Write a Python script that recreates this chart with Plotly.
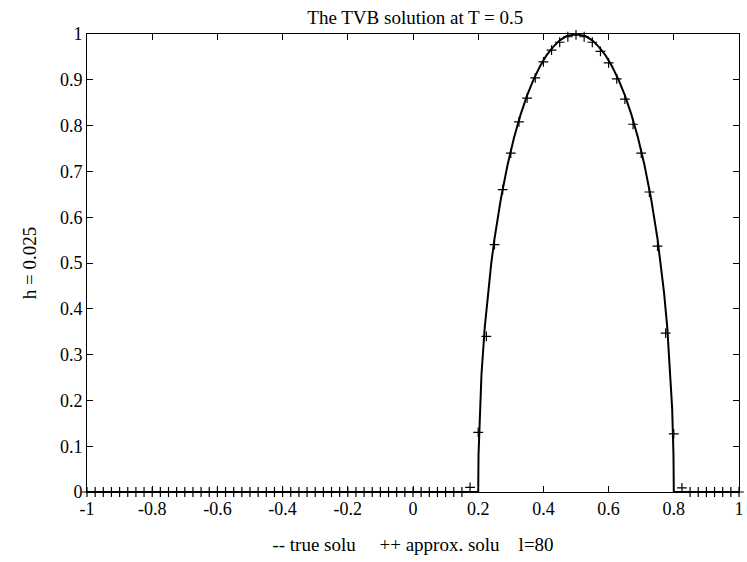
import plotly.graph_objects as go

# approximate solution at grid points x = -1 .. 1 (step 0.025)
x_approx = [round(-1 + 0.025 * k, 4) for k in range(81)]
approx_nonzero = {
    0.175: 0.01, 0.2: 0.13, 0.225: 0.34, 0.25: 0.54, 0.275: 0.66, 0.3: 0.74,
    0.325: 0.808, 0.35: 0.86, 0.375: 0.904, 0.4: 0.939, 0.425: 0.965,
    0.45: 0.982, 0.475: 0.994, 0.5: 0.998, 0.525: 0.994, 0.55: 0.982,
    0.575: 0.962, 0.6: 0.937, 0.625: 0.902, 0.65: 0.858, 0.675: 0.803,
    0.7: 0.74, 0.725: 0.655, 0.75: 0.537, 0.775: 0.347, 0.8: 0.127, 0.825: 0.009,
}
y_approx = [approx_nonzero.get(x, 0.0) for x in x_approx]

# true solution
x_true = [-1, 0.2, 0.201, 0.205, 0.21, 0.22, 0.23, 0.24, 0.25, 0.27, 0.29, 0.31,
          0.33, 0.35, 0.37, 0.39, 0.41, 0.43, 0.45, 0.47, 0.5, 0.53, 0.55, 0.57,
          0.59, 0.61, 0.63, 0.65, 0.67, 0.69, 0.71, 0.73, 0.75, 0.76, 0.77, 0.78,
          0.79, 0.795, 0.799, 0.8, 1]
y_true = [0, 0, 0.082, 0.182, 0.256, 0.359, 0.436, 0.499, 0.553, 0.642, 0.714,
          0.774, 0.824, 0.866, 0.901, 0.930, 0.954, 0.972, 0.986, 0.995, 1.0,
          0.995, 0.986, 0.972, 0.954, 0.930, 0.901, 0.866, 0.824, 0.774, 0.714,
          0.642, 0.553, 0.499, 0.436, 0.359, 0.256, 0.182, 0.082, 0, 0]

x_ticks = [-1, -0.8, -0.6, -0.4, -0.2, 0, 0.2, 0.4, 0.6, 0.8, 1]
x_tick_labels = ["-1", "-0.8", "-0.6", "-0.4", "-0.2", "0", "0.2", "0.4", "0.6", "0.8", "1"]
y_ticks = [0, 0.1, 0.2, 0.3, 0.4, 0.5, 0.6, 0.7, 0.8, 0.9, 1]
y_tick_labels = ["0", "0.1", "0.2", "0.3", "0.4", "0.5", "0.6", "0.7", "0.8", "0.9", "1"]

serif = "Liberation Serif"

fig = go.Figure()
fig.add_trace(go.Scatter(x=x_true, y=y_true, mode="lines",
                         line=dict(color="black", width=2), showlegend=False))
fig.add_trace(go.Scatter(x=x_approx, y=y_approx, mode="markers",
                         marker=dict(symbol="cross-thin", size=7,
                                     line=dict(color="black", width=1.2)),
                         showlegend=False, cliponaxis=False))

fig.update_layout(
    width=747, height=562,
    margin=dict(l=87, r=3, t=34, b=70),
    plot_bgcolor="white", paper_bgcolor="white",
    font=dict(family=serif, size=18, color="black"),
    title=dict(text="The TVB solution at T = 0.5", x=0.556, xanchor="center",
               y=0.969, yanchor="middle", font=dict(family=serif, size=19, color="black")),
    xaxis=dict(range=[-1, 1], tickvals=x_ticks, ticktext=x_tick_labels,
               ticks="inside", ticklen=6, tickcolor="black", mirror="allticks",
               showline=True, linecolor="black", linewidth=1, showgrid=False,
               zeroline=False, ticklabeloverflow="allow",
               tickfont=dict(family=serif, size=18),
               title=dict(text="-- true solu     ++ approx. solu    l=80",
                          font=dict(family=serif, size=19), standoff=20)),
    yaxis=dict(range=[0, 1], tickvals=y_ticks, ticktext=y_tick_labels,
               ticks="inside", ticklen=6, tickcolor="black", mirror="allticks",
               showline=True, linecolor="black", linewidth=1, showgrid=False,
               zeroline=False, tickfont=dict(family=serif, size=18),
               title=dict(text="h = 0.025", font=dict(family=serif, size=19), standoff=18)),
)

fig.write_html("out.html")
